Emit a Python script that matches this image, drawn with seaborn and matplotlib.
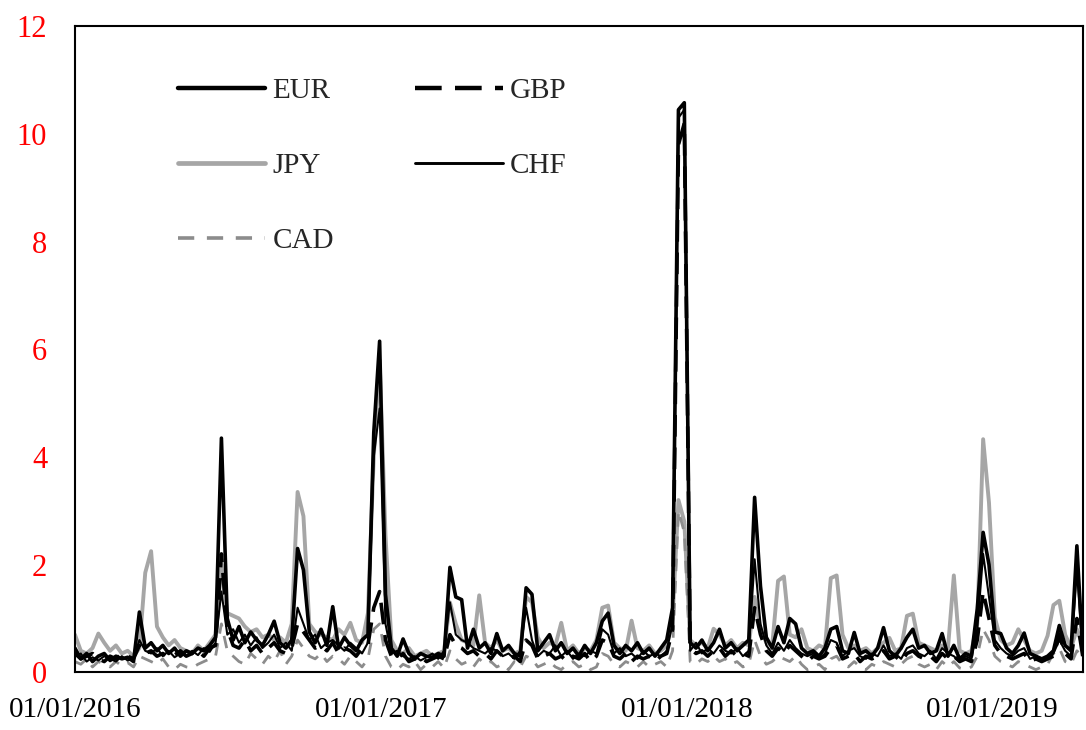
"""
Currency series chart, weekly values 2016-2019
"""

import numpy as np
import pandas as pd
import matplotlib
matplotlib.use("Agg")
import matplotlib.pyplot as plt
import matplotlib.dates as mdates
from matplotlib.lines import Line2D
import seaborn as sns

# ─── Data (weekly) ─────────────────────────────────────────────────────────────
START = "2016-01-01"
END = "2019-04-19"

EUR = [
    0.45, 0.25, 0.35, 0.20, 0.30, 0.35, 0.22, 0.30, 0.25, 0.28,
    0.20, 1.12, 0.45, 0.55, 0.40, 0.50, 0.35, 0.45, 0.30, 0.40,
    0.35, 0.45, 0.40, 0.50, 0.65, 4.35, 1.00, 0.60, 0.85, 0.55,
    0.75, 0.60, 0.50, 0.70, 0.95, 0.55, 0.45, 0.60, 2.30, 1.90,
    0.75, 0.55, 0.80, 0.50, 1.22, 0.45, 0.65, 0.50, 0.40, 0.60,
    0.70, 4.45, 6.15, 1.45, 0.45, 0.30, 0.62, 0.35, 0.25, 0.35,
    0.30, 0.28, 0.35, 0.30, 1.95, 1.40, 1.35, 0.45, 0.80, 0.45,
    0.55, 0.35, 0.72, 0.40, 0.50, 0.35, 0.30, 1.57, 1.45, 0.40,
    0.55, 0.70, 0.40, 0.55, 0.35, 0.45, 0.30, 0.50, 0.35, 0.55,
    0.95, 1.10, 0.50, 0.35, 0.50, 0.40, 0.55, 0.35, 0.45, 0.30,
    0.45, 0.60, 1.20, 10.45, 10.58, 0.55, 0.45, 0.60, 0.40, 0.55,
    0.80, 0.45, 0.55, 0.40, 0.50, 0.60, 3.25, 1.60, 0.65, 0.45,
    0.85, 0.55, 1.00, 0.90, 0.45, 0.35, 0.40, 0.30, 0.45, 0.80,
    0.85, 0.40, 0.35, 0.74, 0.35, 0.40, 0.30, 0.45, 0.83, 0.40,
    0.30, 0.45, 0.65, 0.80, 0.45, 0.50, 0.35, 0.40, 0.72, 0.30,
    0.50, 0.25, 0.35, 0.30, 1.18, 2.60, 2.00, 0.75, 0.72, 0.45,
    0.35, 0.50, 0.73, 0.35, 0.30, 0.25, 0.30, 0.40, 0.87, 0.50,
    0.40, 2.35, 0.40,
]

GBP = [
    0.35, 0.25, 0.30, 0.35, 0.25, 0.20, 0.30, 0.25, 0.35, 0.30,
    0.25, 0.50, 0.35, 0.40, 0.30, 0.35, 0.28, 0.32, 0.40, 0.30,
    0.35, 0.40, 0.30, 0.45, 0.50, 2.20, 0.80, 0.50, 0.45, 0.60,
    0.40, 0.50, 0.35, 0.45, 0.55, 0.40, 0.35, 0.45, 0.90, 0.75,
    0.60, 0.45, 0.50, 0.40, 0.55, 0.35, 0.45, 0.40, 0.30, 0.45,
    0.50, 1.20, 1.50, 0.60, 0.30, 0.25, 0.35, 0.20, 0.25, 0.30,
    0.20, 0.25, 0.30, 0.25, 0.70, 0.50, 0.45, 0.35, 0.40, 0.30,
    0.35, 0.25, 0.40, 0.30, 0.25, 0.30, 0.20, 0.60, 0.50, 0.25,
    0.30, 0.35, 0.25, 0.30, 0.20, 0.30, 0.25, 0.35, 0.20, 0.30,
    0.60, 0.55, 0.30, 0.25, 0.35, 0.20, 0.30, 0.25, 0.30, 0.20,
    0.30, 0.35, 0.80, 9.80, 10.20, 0.45, 0.35, 0.40, 0.30, 0.40,
    0.45, 0.30, 0.40, 0.30, 0.35, 0.30, 1.20, 0.70, 0.40, 0.30,
    0.45, 0.35, 0.50, 0.40, 0.30, 0.20, 0.30, 0.25, 0.30, 0.45,
    0.50, 0.25, 0.30, 0.35, 0.20, 0.30, 0.25, 0.30, 0.40, 0.25,
    0.30, 0.20, 0.35, 0.40, 0.30, 0.25, 0.30, 0.20, 0.35, 0.25,
    0.30, 0.20, 0.25, 0.20, 0.60, 1.50, 1.00, 0.50, 0.35, 0.30,
    0.25, 0.30, 0.35, 0.20, 0.25, 0.20, 0.25, 0.30, 0.70, 0.35,
    0.25, 1.00, 0.30,
]

JPY = [
    0.70, 0.40, 0.35, 0.45, 0.72, 0.55, 0.40, 0.50, 0.35, 0.40,
    0.30, 0.45, 1.85, 2.25, 0.85, 0.65, 0.50, 0.60, 0.45, 0.40,
    0.35, 0.50, 0.40, 0.55, 0.70, 2.00, 1.10, 1.05, 1.00, 0.85,
    0.75, 0.80, 0.65, 0.70, 0.60, 0.65, 0.55, 0.90, 3.35, 2.90,
    0.90, 0.75, 0.70, 0.65, 0.60, 0.80, 0.70, 0.92, 0.60, 0.55,
    1.10, 4.00, 5.80, 2.55, 0.60, 0.40, 0.35, 0.45, 0.30, 0.35,
    0.40, 0.30, 0.35, 0.40, 1.30, 0.90, 0.60, 0.55, 0.50, 1.43,
    0.55, 0.45, 0.60, 0.40, 0.45, 0.35, 0.40, 1.40, 1.30, 0.65,
    0.45, 0.55, 0.50, 0.92, 0.40, 0.50, 0.35, 0.45, 0.40, 0.60,
    1.20, 1.24, 0.55, 0.45, 0.40, 0.96, 0.45, 0.40, 0.50, 0.35,
    0.40, 0.50, 1.00, 3.20, 2.80, 0.60, 0.50, 0.55, 0.45, 0.81,
    0.70, 0.50, 0.60, 0.45, 0.55, 0.50, 1.40, 0.80, 0.55, 0.50,
    1.70, 1.78, 0.70, 0.65, 0.80, 0.45, 0.40, 0.50, 0.45, 1.75,
    1.80, 0.70, 0.45, 0.50, 0.40, 0.45, 0.35, 0.45, 0.55, 0.64,
    0.40, 0.45, 1.05, 1.09, 0.55, 0.50, 0.45, 0.40, 0.50, 0.45,
    1.80, 0.40, 0.35, 0.40, 0.90, 4.33, 3.15, 1.02, 0.60, 0.50,
    0.55, 0.80, 0.60, 0.40, 0.35, 0.40, 0.68, 1.25, 1.33, 0.70,
    0.45, 0.80, 0.50,
]

CHF = [
    0.30, 0.35, 0.20, 0.28, 0.22, 0.30, 0.25, 0.20, 0.30, 0.22,
    0.25, 0.60, 0.40, 0.35, 0.45, 0.30, 0.40, 0.28, 0.35, 0.30,
    0.40, 0.32, 0.45, 0.38, 0.55, 1.50, 0.70, 0.80, 0.55, 0.70,
    0.50, 0.65, 0.45, 0.55, 0.70, 0.45, 0.55, 0.40, 1.20, 0.90,
    0.60, 0.70, 0.45, 0.55, 0.60, 0.50, 0.40, 0.55, 0.45, 0.35,
    0.55, 4.00, 4.90, 0.90, 0.35, 0.40, 0.30, 0.25, 0.30, 0.22,
    0.28, 0.35, 0.25, 0.40, 1.30, 0.70, 0.60, 0.55, 0.45, 0.40,
    0.35, 0.45, 0.40, 0.30, 0.35, 0.25, 0.40, 1.20, 0.60, 0.30,
    0.40, 0.35, 0.50, 0.30, 0.40, 0.25, 0.35, 0.30, 0.40, 0.35,
    0.80, 0.70, 0.35, 0.45, 0.30, 0.35, 0.25, 0.40, 0.30, 0.35,
    0.30, 0.40, 0.90, 10.30, 10.45, 0.40, 0.55, 0.35, 0.45, 0.35,
    0.50, 0.40, 0.35, 0.45, 0.30, 0.40, 2.10, 0.90, 0.50, 0.35,
    0.55, 0.40, 0.60, 0.45, 0.35, 0.30, 0.35, 0.25, 0.35, 0.60,
    0.55, 0.30, 0.40, 0.45, 0.30, 0.25, 0.35, 0.30, 0.50, 0.30,
    0.35, 0.25, 0.45, 0.50, 0.35, 0.30, 0.40, 0.25, 0.45, 0.35,
    0.30, 0.20, 0.30, 0.25, 0.80, 2.20, 1.40, 0.60, 0.45, 0.35,
    0.30, 0.40, 0.45, 0.25, 0.30, 0.20, 0.25, 0.35, 0.60, 0.40,
    0.30, 1.90, 0.35,
]

CAD = [
    0.20, 0.15, 0.25, 0.10, 0.20, 0.15, 0.10, 0.20, 0.12, 0.18,
    0.10, 0.30, 0.25, 0.20, 0.15, 0.25, 0.10, 0.05, 0.15, 0.10,
    0.08, 0.15, 0.20, 0.25, 0.30, 0.90, 0.40, 0.30, 0.20, 0.15,
    0.35, 0.25, 0.15, 0.30, 0.20, 0.40, 0.15, 0.30, 0.60, 0.45,
    0.30, 0.25, 0.35, 0.20, 0.30, 0.25, 0.15, 0.30, 0.20, 0.10,
    0.25, 0.80, 0.90, 0.30, 0.10, 0.05, 0.15, 0.10, 0.20, 0.05,
    0.15, 0.10, 0.20, 0.08, 0.40, 0.25, 0.15, 0.20, 0.10, 0.25,
    0.15, 0.20, 0.10, 0.15, 0.05, 0.20, 0.10, 0.30, 0.25, 0.10,
    0.15, 0.20, 0.10, 0.05, 0.15, 0.20, 0.10, 0.15, 0.05, 0.10,
    0.35, 0.30, 0.15, 0.10, 0.20, 0.15, 0.10, 0.20, 0.10, 0.15,
    0.20, 0.10, 0.40, 3.00, 2.60, 0.20, 0.15, 0.25, 0.20, 0.30,
    0.20, 0.25, 0.15, 0.20, 0.10, 0.15, 0.60, 0.30, 0.15, 0.20,
    0.30, 0.25, 0.20, 0.30, 0.15, 0.05, 0.10, 0.15, 0.05, 0.25,
    0.30, 0.15, 0.10, 0.20, 0.10, 0.05, 0.15, 0.10, 0.20, 0.15,
    0.10, 0.15, 0.25, 0.30, 0.15, 0.10, 0.15, 0.05, 0.20, 0.10,
    0.20, 0.08, 0.05, 0.10, 0.30, 0.80, 0.60, 0.30, 0.20, 0.15,
    0.10, 0.20, 0.15, 0.10, 0.05, 0.10, 0.15, 0.35, 0.45, 0.20,
    0.15, 0.40, 0.30,
]

Y_TICKS = [0, 2, 4, 6, 8, 10, 12]
X_TICKS = ["2016-01-01", "2017-01-01", "2018-01-01", "2019-01-01"]

# ─── Style ─────────────────────────────────────────────────────────────────────
sns.set_style("white")
plt.rcParams["font.family"] = ["Liberation Serif", "DejaVu Serif"]

dates = pd.date_range(START, periods=len(EUR), freq="7D")
df = pd.DataFrame({"date": dates, "EUR": EUR, "GBP": GBP, "JPY": JPY,
                   "CHF": CHF, "CAD": CAD})

styles = {
    "JPY": dict(color="#a6a6a6", lw=2.8, ls="-"),
    "CAD": dict(color="#8c8c8c", lw=2.0, ls=(0, (4.5, 3.5))),
    "GBP": dict(color="black", lw=2.6, ls=(0, (6.0, 3.0))),
    "EUR": dict(color="black", lw=2.6, ls="-"),
    "CHF": dict(color="black", lw=1.5, ls="-"),
}

fig, ax = plt.subplots(figsize=(10.86, 7.30), dpi=100)
fig.subplots_adjust(left=0.069, right=0.997, bottom=0.079, top=0.964)

for name in ["JPY", "CAD", "GBP", "EUR", "CHF"]:
    st = styles[name]
    sns.lineplot(data=df, x="date", y=name, ax=ax, color=st["color"],
                 linewidth=st["lw"], linestyle=st["ls"])

ax.set_xlim(pd.Timestamp(START), pd.Timestamp(END))
ax.set_ylim(0, 12)
ax.set_yticks(Y_TICKS)
ax.set_xticks(pd.to_datetime(X_TICKS))
ax.xaxis.set_major_formatter(mdates.DateFormatter("%d/%m/%Y"))
ax.set_xlabel("")
ax.set_ylabel("")
ax.tick_params(axis="y", length=0, pad=20, labelsize=22, labelcolor="red")
ax.tick_params(axis="x", length=0, pad=18, labelsize=21, labelcolor="black")

for sp in ax.spines.values():
    sp.set_visible(True)
    sp.set_color("black")
    sp.set_linewidth(1.5)

# legend: column-major, so EUR/JPY/CAD in the first column
order = ["EUR", "JPY", "CAD", "GBP", "CHF"]
handles = [Line2D([0], [0], color=styles[n]["color"], lw=styles[n]["lw"] + 0.6,
                  ls=styles[n]["ls"]) for n in order]
ax.legend(handles, order, ncol=2, loc="upper left", bbox_to_anchor=(0.102, 0.92),
          frameon=False, fontsize=21, borderpad=0, borderaxespad=0,
          handlelength=3.0, handletextpad=0.25, labelspacing=1.66,
          columnspacing=2.78)

plt.savefig("out.png", dpi=100, facecolor="white")
